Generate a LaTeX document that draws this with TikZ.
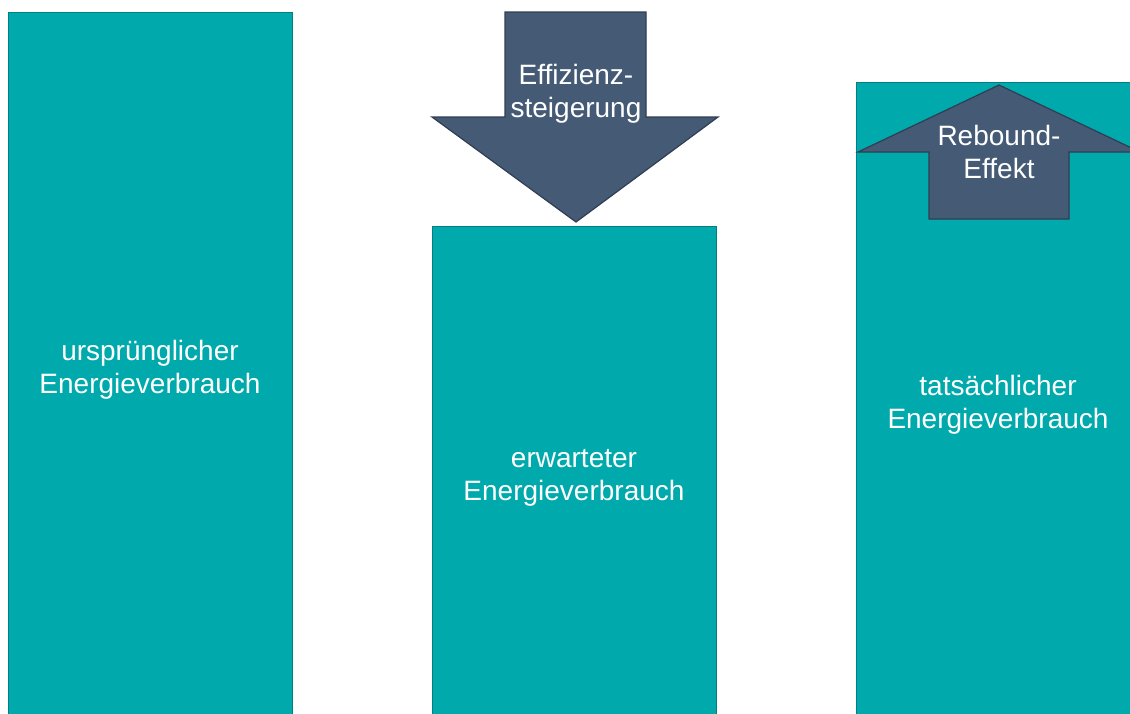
\documentclass[tikz,border=0pt]{standalone}
\usepackage{fontspec}
\setmainfont{Liberation Sans}
\usepackage{tikz}
\usetikzlibrary{positioning}
\definecolor{barteal}{RGB}{0,169,172}
\definecolor{bardraw}{RGB}{0,128,128}
\definecolor{effslate}{RGB}{69,90,117}
\definecolor{effdraw}{RGB}{47,62,82}

\begin{document}
\begin{tikzpicture}[
    x=1pt, y=-1pt,
    bar/.style={rectangle, draw=bardraw, fill=barteal, line width=1.2pt,
                inner sep=0pt, minimum width=284pt},
    effarrow/.style={draw=effdraw, fill=effslate, line width=1.2pt, line join=miter},
    txt/.style={text=white, font=\fontsize{28}{33}\selectfont, align=center}
]
\useasboundingbox (0,0) rectangle (1130,713);

% Bars
\node[bar, minimum height=703pt, anchor=north west] (orig) at (8,12) {};
\node[bar, minimum height=489pt, anchor=north west] (expect) at (432,226) {};
\node[bar, minimum width=294pt, minimum height=633pt, anchor=north west] (actual) at (856,82) {};

% Arrows
\draw[effarrow] (505,12) -- (646,12) -- (646,117) -- (718,117) -- (576,222)
    -- (432,117) -- (505,117) -- cycle;
\draw[effarrow] (929,219) -- (929,152) -- (858,152) -- (999,85) -- (1140,152)
    -- (1069,152) -- (1069,219) -- cycle;

% Labels
\node[txt] (origtxt) at (150,370) {ursprünglicher\\Energieverbrauch};
\node[txt] (expecttxt) at (574,478) {erwarteter\\Energieverbrauch};
\node[txt] (actualtxt) at (998,405) {tatsächlicher\\Energieverbrauch};
\node[txt] (efftxt) at (576,94) {Effizienz-\\steigerung};
\node[txt] (rebtxt) at (999,152) {Rebound-\\Effekt};
\end{tikzpicture}
\end{document}
